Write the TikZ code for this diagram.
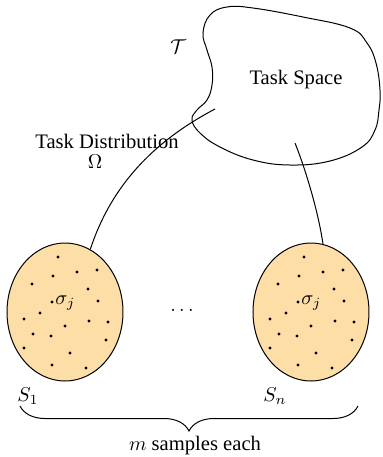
\documentclass[tikz,border=0pt]{standalone}
\usepackage{fontspec}
\setmainfont{Liberation Serif}
\usetikzlibrary{shapes.geometric,decorations.pathreplacing}
\definecolor{setfill}{RGB}{252,222,166}
\tikzset{
  line/.style={line width=0.5pt},
  setblob/.style={ellipse, draw, line width=0.5pt, fill=setfill, inner sep=0pt,
     minimum width=58pt, minimum height=69pt},
  dotc/.style={fill=black},
  lbl/.style={inner sep=0pt, font=\fontsize{10.3}{12}\selectfont},
}
\begin{document}
\begin{tikzpicture}[x=0.5pt,y=-0.5pt]
\useasboundingbox (0,0) rectangle (382,457);
% task space blob
\draw[line] plot[smooth cycle, tension=0.7] coordinates{
 (203,33) (210,15) (227,7) (253,8) (303,17) (350,28) (367,43) (376,63) (380,90)
 (379,110) (375,130) (362,147) (330,161) (290,165) (253,160) (220,147) (200,133)
 (192,120) (197,110) (207,100) (212,85) (212,67) (207,50)};
\node[lbl] (ts) at (296,80) {Task Space};
\node[lbl] (tau) at (178,47) {$\mathcal{T}$};
\node[lbl] (td) at (107,141) {Task Distribution};
\node[lbl] (om) at (95,162) {$\Omega$};
% sets
\node[setblob] (S1) at (65,312) {};
\node[setblob] (S2) at (311,312) {};
\foreach \dx/\nm in {0/S1,246/S2}{
  \foreach \x/\y in {58/257,53/276,77/272,97/270,32/284,88/289,52/302,98/301,
     40/313,24/319,65/326,89/321,108/322,33/334,51/336,106/340,24/348,70/353,
     52/365,86/368}{
    \fill[dotc] (\x+\dx,\y) circle (0.8pt);
  }
}
\node[lbl, anchor=west] (sig1) at (55,303) {$\sigma_j$};
\node[lbl, anchor=west] (sig2) at (301,303) {$\sigma_j$};
\node[lbl] (dots) at (182,310) {$\ldots$};
\node[lbl] (l1) at (28,396) {$S_1$};
\node[lbl] (l2) at (275,396) {$S_n$};
% connectors
\coordinate (c1) at (215,109);
\coordinate (c2) at (295,143);
\draw[line] (c1) .. controls (160,138) and (113,180) .. (S1.68);
\draw[line] (c2) .. controls (305,168) and (318,210) .. (S2.80);
% brace
\coordinate (b1) at (20,406);
\coordinate (b2) at (358,406);
\draw[line, decorate, decoration={brace, mirror, amplitude=12.5pt}] (b1) -- (b2);
\node[lbl] (ms) at (195,446) {$m$ samples each};
\end{tikzpicture}
\end{document}
